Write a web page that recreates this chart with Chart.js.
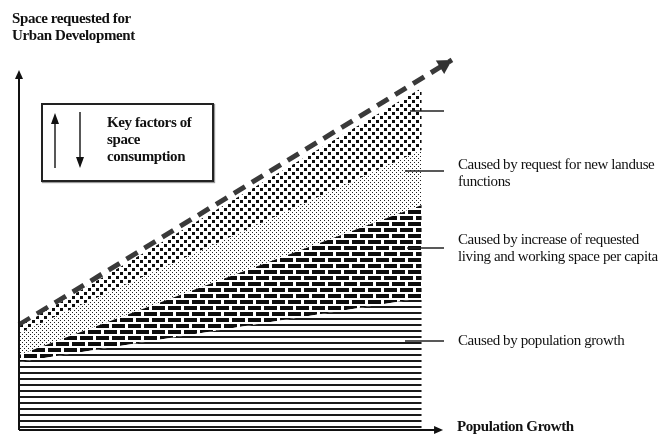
<!DOCTYPE html>
<html>
<head>
    <title>Space consumption</title>
    <script src="https://cdn.jsdelivr.net/npm/chart.js"></script>
    <style>
        body {
            margin: 0;
            background: #fff;
            overflow: hidden;
        }
        .wrap {
            position: relative;
            width: 664px;
            height: 437px;
        }
        .txt {
            position: absolute;
            font-family: "Liberation Serif", "DejaVu Serif", serif;
            font-size: 15px;
            line-height: 17px;
            color: #111;
            white-space: nowrap;
            letter-spacing: -0.4px;
        }
        .bold {
            font-weight: bold;
        }
        .keybox {
            position: absolute;
            left: 41px;
            top: 103px;
            width: 169px;
            height: 75px;
            border: 2px solid #222;
            box-shadow: 1px 1px 1px #999;
        }
    </style>
</head>
<body>
<div class="wrap">
    <canvas id="chart" width="664" height="437"></canvas>
    <div class="keybox"></div>
    <div class="txt bold" style="left:12px; top:10px;">Space requested for<br>Urban Development</div>
    <div class="txt bold" style="left:107px; top:114px;">Key factors of<br>space<br>consumption</div>
    <div class="txt" style="left:458px; top:156px;">Caused by request for new landuse<br>functions</div>
    <div class="txt" style="left:458px; top:231px;">Caused by increase of requested<br>living and working space per capita</div>
    <div class="txt" style="left:458px; top:332px;">Caused by population growth</div>
    <div class="txt bold" style="left:457px; top:418px;">Population Growth</div>
</div>

<script>
    // values (x: 0 = left edge, 10 = right edge of the stack)
    const xPoints = [0, 10];
    const populationGrowth = [18.9, 36.7];
    const livingSpace = [20.8, 62.5];
    const newLanduse = [26.9, 77.8];
    const topLayer = [28.6, 95.0];
    const trendX = [0, 10.75];
    const trendY = [29.2, 102.8];

    const ctx = document.getElementById('chart').getContext('2d');

    function makePattern(w, h, draw) {
        const c = document.createElement('canvas');
        c.width = w;
        c.height = h;
        const g = c.getContext('2d');
        g.fillStyle = '#fff';
        g.fillRect(0, 0, w, h);
        draw(g);
        return ctx.createPattern(c, 'repeat');
    }

    // horizontal lines
    const linesPattern = makePattern(8, 6, g => {
        g.fillStyle = '#1a1a1a';
        g.fillRect(0, 0, 8, 2);
    });
    // bricks
    const brickPattern = makePattern(16, 12, g => {
        g.fillStyle = '#0d0d0d';
        g.fillRect(0, 0, 13, 4);
        g.fillRect(8, 6, 13, 4);
        g.fillRect(-8, 6, 13, 4);
    });
    // light dots
    const lightDots = makePattern(4, 4, g => {
        g.fillStyle = '#222';
        g.fillRect(0, 0, 1, 1);
        g.fillRect(2, 2, 1, 1);
    });
    // dense dots
    const denseDots = makePattern(8, 8, g => {
        g.fillStyle = '#0d0d0d';
        g.fillRect(0, 0, 3, 3);
        g.fillRect(4, 4, 3, 3);
    });

    const toPoints = (xs, ys) => xs.map((x, i) => ({ x: x, y: ys[i] }));

    const decor = {
        id: 'decor',
        afterDatasetsDraw(chart) {
            const g = chart.ctx;
            const xs = chart.scales.x;
            const ys = chart.scales.y;
            const x0 = xs.getPixelForValue(0);
            const y0 = ys.getPixelForValue(0);
            const yTop = ys.getPixelForValue(100);
            const xEnd = xs.getPixelForValue(10.53);
            g.save();
            g.strokeStyle = '#111';
            g.fillStyle = '#111';
            g.lineWidth = 2;
            // axes
            g.beginPath();
            g.moveTo(x0, y0);
            g.lineTo(x0, yTop + 4);
            g.moveTo(x0, y0);
            g.lineTo(xEnd - 4, y0);
            g.stroke();
            g.beginPath();
            g.moveTo(x0, yTop);
            g.lineTo(x0 - 4, yTop + 9);
            g.lineTo(x0 + 4, yTop + 9);
            g.closePath();
            g.fill();
            g.beginPath();
            g.moveTo(xEnd, y0);
            g.lineTo(xEnd - 9, y0 - 4);
            g.lineTo(xEnd - 9, y0 + 4);
            g.closePath();
            g.fill();

            // trend arrow head
            const n = trendX.length - 1;
            const ax = xs.getPixelForValue(trendX[n]);
            const ay = ys.getPixelForValue(trendY[n]);
            const bx = xs.getPixelForValue(trendX[n - 1]);
            const by = ys.getPixelForValue(trendY[n - 1]);
            const ang = Math.atan2(ay - by, ax - bx);
            g.save();
            g.translate(ax, ay);
            g.rotate(ang);
            g.fillStyle = '#333';
            g.beginPath();
            g.moveTo(0, 0);
            g.lineTo(-14, -8);
            g.lineTo(-14, 8);
            g.closePath();
            g.fill();
            g.restore();

            // leader lines
            g.lineWidth = 1.5;
            g.strokeStyle = '#222';
            [[410, 111], [405, 171], [407, 248], [405, 341]].forEach(([sx, sy]) => {
                g.beginPath();
                g.moveTo(sx, sy);
                g.lineTo(444, sy);
                g.stroke();
            });

            // arrows in key box
            g.lineWidth = 1.5;
            g.beginPath();
            g.moveTo(55, 168);
            g.lineTo(55, 120);
            g.moveTo(80, 112);
            g.lineTo(80, 160);
            g.stroke();
            g.beginPath();
            g.moveTo(55, 113);
            g.lineTo(51, 124);
            g.lineTo(59, 124);
            g.closePath();
            g.fill();
            g.beginPath();
            g.moveTo(80, 168);
            g.lineTo(76, 157);
            g.lineTo(84, 157);
            g.closePath();
            g.fill();
            g.restore();
        }
    };

    new Chart(ctx, {
        type: 'line',
        data: {
            datasets: [
                {
                    label: 'Caused by population growth',
                    data: toPoints(xPoints, populationGrowth),
                    backgroundColor: linesPattern,
                    borderWidth: 0,
                    pointRadius: 0,
                    fill: 'origin'
                },
                {
                    label: 'Caused by increase of requested living and working space per capita',
                    data: toPoints(xPoints, livingSpace),
                    backgroundColor: brickPattern,
                    borderWidth: 0,
                    pointRadius: 0,
                    fill: '-1'
                },
                {
                    label: 'Caused by request for new landuse functions',
                    data: toPoints(xPoints, newLanduse),
                    backgroundColor: lightDots,
                    borderWidth: 0,
                    pointRadius: 0,
                    fill: '-1'
                },
                {
                    label: 'Top layer',
                    data: toPoints(xPoints, topLayer),
                    backgroundColor: denseDots,
                    borderWidth: 0,
                    pointRadius: 0,
                    fill: '-1'
                },
                {
                    label: 'Trend',
                    data: toPoints(trendX, trendY),
                    borderColor: '#3a3a3a',
                    borderWidth: 5,
                    borderDash: [13, 8],
                    pointRadius: 0,
                    fill: false,
                    clip: false
                }
            ]
        },
        options: {
            responsive: false,
            animation: false,
            devicePixelRatio: 1,
            layout: {
                padding: { left: 19, right: 202, top: 34, bottom: 7 }
            },
            plugins: {
                legend: { display: false },
                tooltip: { enabled: false }
            },
            scales: {
                x: { type: 'linear', min: 0, max: 11, display: false },
                y: { min: 0, max: 110, display: false }
            }
        },
        plugins: [decor]
    });
</script>
</body>
</html>
